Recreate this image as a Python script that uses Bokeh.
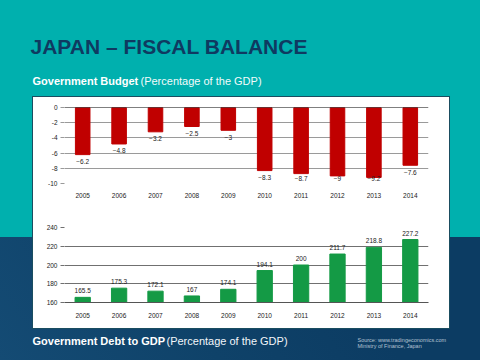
from bokeh.plotting import figure
from bokeh.models import ColumnDataSource, Range1d, FactorRange, FixedTicker, Span, Spacer
from bokeh.layouts import column, row
from bokeh.core.properties import value
from bokeh.embed import file_html
from bokeh.resources import INLINE

# ---- data ----
years = ["2005", "2006", "2007", "2008", "2009", "2010", "2011", "2012", "2013", "2014"]
budget = [-6.2, -4.8, -3.2, -2.5, -3.0, -8.3, -8.7, -9.0, -9.2, -7.6]
debt = [165.5, 175.3, 172.1, 167.0, 174.1, 194.1, 200.0, 211.7, 218.8, 227.2]
budget_ticks = [-10, -8, -6, -4, -2, 0]
budget_tick_labels = ["-10", "-8", "-6", "-4", "-2", "0"]
debt_ticks = [160, 180, 200, 220, 240]
debt_tick_labels = ["160", "180", "200", "220", "240"]

title_text = "JAPAN \u2013 FISCAL BALANCE"
top_bold = "Government Budget"
top_normal = "(Percentage of the GDP)"
bottom_bold = "Government Debt to GDP"
bottom_normal = "(Percentage of the GDP)"
source_lines = ["Source: www.tradingeconomics.com", "Ministry of Finance, Japan"]

FONT = "Liberation Sans"
TEAL = "#00B0AE"
NAVY = "#0C3C63"
TITLE = "#0F3A61"
RED = "#C00000"
GREEN = "#149A45"


def fmt(v):
    s = f"{v:g}"
    return s.replace("-", "\u2212")


def canvas(w, h):
    f = figure(width=w, height=h, x_range=Range1d(0, w), y_range=Range1d(h, 0),
               output_backend="svg", toolbar_location=None, min_border=0,
               x_axis_location=None, y_axis_location=None,
               border_fill_alpha=0, background_fill_alpha=0, outline_line_color=None)
    f.grid.visible = False
    return f


# ---- header ----
header = canvas(480, 97)
header.text(x=[30], y=[45.5], text=[title_text], text_font=value(FONT), text_font_size="21px",
            text_font_style="bold", text_color=TITLE, text_baseline="middle")
header.text(x=[32], y=[80], text=[top_bold], text_font=value(FONT), text_font_size="11px",
            text_font_style="bold", text_color="white", text_baseline="middle")
header.text(x=[140], y=[80], text=[top_normal], text_font=value(FONT), text_font_size="11px",
            text_color="#f2fbfb", text_baseline="middle")


def style_chart(p, ticks, labels, grid_color):
    p.yaxis.ticker = FixedTicker(ticks=ticks)
    p.yaxis.major_label_overrides = {t: l for t, l in zip(ticks, labels)}
    p.ygrid.ticker = FixedTicker(ticks=ticks)
    p.ygrid.grid_line_color = grid_color
    p.xgrid.grid_line_color = None
    p.yaxis.axis_line_color = None
    p.yaxis.major_tick_line_color = grid_color
    p.yaxis.major_tick_out = 4
    p.yaxis.major_tick_in = 0
    p.yaxis.minor_tick_line_color = None
    p.yaxis.major_label_standoff = 3
    p.xaxis.major_tick_line_color = None
    p.xaxis.minor_tick_line_color = None
    for ax in (p.xaxis, p.yaxis):
        ax.major_label_text_font = FONT
        ax.major_label_text_font_size = "6.5px"
        ax.major_label_text_color = "#222222"


# ---- top chart: budget ----
# labels sit just below each bar end, kept inside the plot area (as the spreadsheet does)
budget_label_y = [max(v - 0.9, -9.35) for v in budget]
src1 = ColumnDataSource(dict(year=years, val=budget, ly=budget_label_y,
                             lab=[fmt(v) for v in budget]))
p1 = figure(width=416, height=103, x_range=FactorRange(*years), y_range=Range1d(-10, 0),
            output_backend="svg", toolbar_location=None,
            min_border_left=31, min_border_right=21, min_border_top=10, min_border_bottom=16,
            background_fill_color="white", border_fill_color="white", outline_line_color=None)
p1.vbar(x="year", top="val", width=0.4, color=RED, source=src1)
p1.text(x="year", y="ly", text="lab", source=src1, text_font=value(FONT), text_font_size="6.5px",
        text_color="#222222", text_align="center", text_baseline="middle")
style_chart(p1, budget_ticks, budget_tick_labels, "#9a9a9a")
p1.xaxis.axis_line_color = None
p1.xaxis.major_label_standoff = 3
p1.add_layout(Span(location=0, dimension="width", line_color="black", line_width=1))

# ---- bottom chart: debt ----
src2 = ColumnDataSource(dict(year=years, val=debt, lab=[fmt(v) for v in debt]))
p2 = figure(width=416, height=128, x_range=FactorRange(*years), y_range=Range1d(160, 240),
            output_backend="svg", toolbar_location=None,
            min_border_left=31, min_border_right=21, min_border_top=27, min_border_bottom=26,
            background_fill_color="white", border_fill_color="white", outline_line_color=None)
p2.vbar(x="year", top="val", bottom=160, width=0.42, color=GREEN, source=src2)
p2.text(x="year", y="val", text="lab", source=src2, text_font=value(FONT), text_font_size="6.5px",
        text_color="#222222", text_align="center", text_baseline="bottom", y_offset=-4)
style_chart(p2, debt_ticks, debt_tick_labels, "#707070")
p2.xaxis.axis_line_color = "#555555"
p2.xaxis.major_label_standoff = 4

panel = column(p1, p2, styles={"background-color": "white", "outline": "1px solid #1a4d60"})
mid = row(Spacer(width=33, height=231), panel, Spacer(width=31, height=231))

# ---- footer ----
footer = canvas(480, 32)
footer.text(x=[32], y=[12.7], text=[bottom_bold], text_font=value(FONT), text_font_size="11px",
            text_font_style="bold", text_color="white", text_baseline="middle")
footer.text(x=[166], y=[12.7], text=[bottom_normal], text_font=value(FONT), text_font_size="11px",
            text_color="#f2f6fa", text_baseline="middle")
footer.text(x=[357, 357], y=[11, 17.5], text=source_lines, text_font=value(FONT),
            text_font_size="5.5px", text_color="#b4c2d2", text_baseline="middle")

page = column(header, mid, footer, styles={
    "background": (f"linear-gradient(to bottom, {TEAL} 0px, {TEAL} 237px, transparent 237px), "
                   f"linear-gradient(55deg, #144b74 0%, #0f4269 30%, {NAVY} 55%, {NAVY} 100%)")})

open("out.html", "w").write(file_html(page, INLINE))
